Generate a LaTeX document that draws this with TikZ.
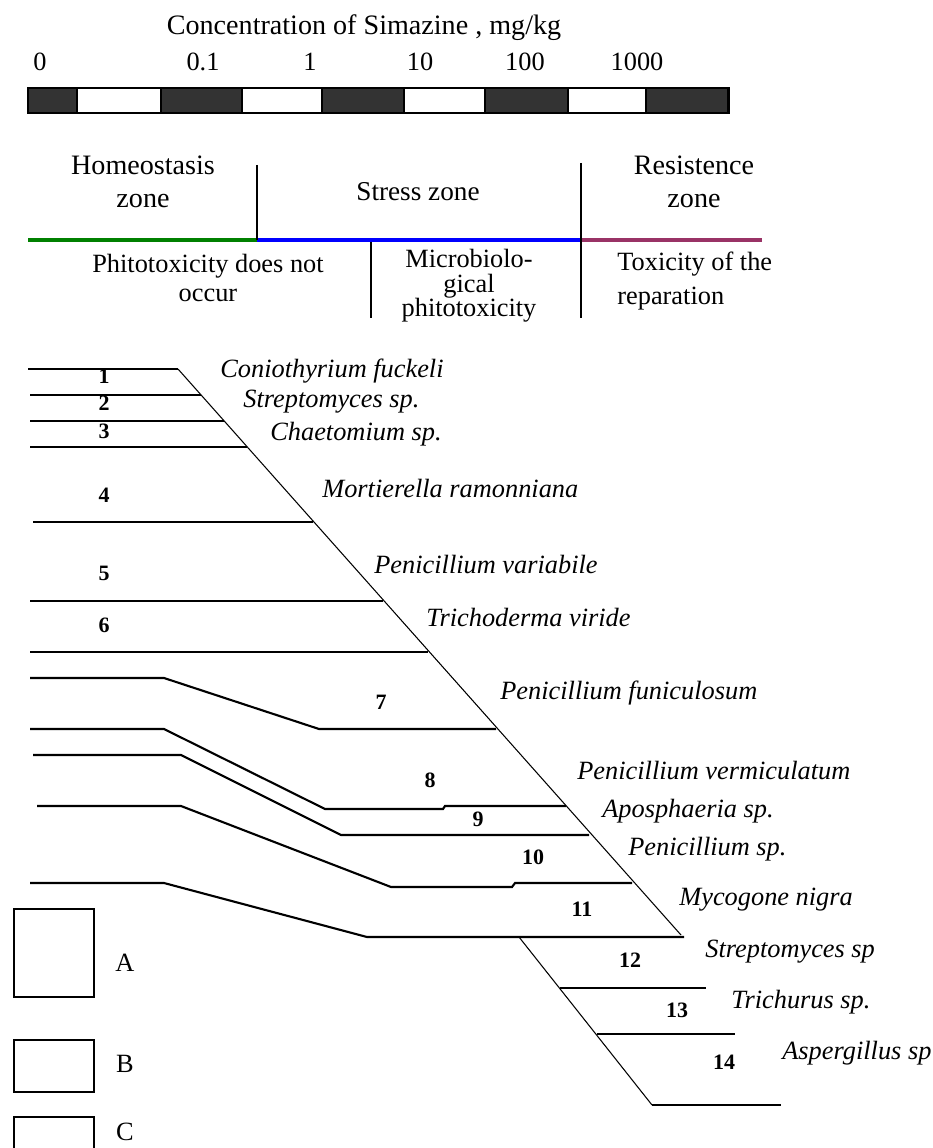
\documentclass[tikz,border=0pt]{standalone}
\usepackage{fontspec}
\setmainfont{Liberation Serif}
\definecolor{zonegreen}{RGB}{0,128,0}
\definecolor{zoneblue}{RGB}{0,0,255}
\definecolor{zonepurple}{RGB}{153,51,102}
\definecolor{bardark}{RGB}{51,51,51}

\begin{document}
\begin{tikzpicture}[x=0.02cm, y=-0.02cm,
		lbl/.style={inner sep=0pt, font=\fontsize{15}{19}\selectfont, align=center},
		taxon/.style={inner sep=0pt, anchor=west, font=\fontsize{15}{19}\selectfont\itshape},
		num/.style={inner sep=0pt, font=\fontsize{12.5}{14}\selectfont\bfseries},
		rule/.style={line width=1.2pt},
		slope/.style={line width=0.6pt}]
			%%%%% START %%%%%
			\useasboundingbox (0,0) rectangle (932,1148);
			
			% scale
			\node[lbl, font=\fontsize{16}{19}\selectfont] (title) at (364, 28) {Concentration of Simazine , mg/kg};
			\foreach \x/\v [count=\i] in {40/0, 203/0.1, 310/1, 420/10, 525/100, 637/1000}
				\node[lbl] (tick\i) at (\x, 62) {\v};
			\foreach \a/\b/\c in {28/77/bardark, 77/161/white, 161/242/bardark, 242/322/white, 322/404/bardark, 404/485/white, 485/568/bardark, 568/646/white, 646/728/bardark}
				\draw[line width=1.2pt, fill=\c] (\a, 88) rectangle (\b, 113);
			\draw[line width=1.7pt] (28, 88) rectangle (728, 113);
			
			% zones
			\draw[zonegreen, line width=2.8pt] (28, 240) -- (257, 240);
			\draw[zoneblue, line width=2.8pt] (257, 240) -- (581, 240);
			\draw[zonepurple, line width=2.8pt] (581, 240) -- (762, 240);
			\draw[line width=0.9pt] (257, 165) -- (257, 240);
			\draw[line width=0.9pt] (581, 163) -- (581, 318);
			\draw[line width=0.9pt] (371, 242) -- (371, 318);
			
			\node[lbl, font=\fontsize{16}{19}\selectfont] (homeo) at (143, 182) {Homeostasis\\zone};
			\node[lbl, font=\fontsize{15.5}{19}\selectfont] (stress) at (418, 192) {Stress zone};
			\node[lbl, font=\fontsize{16}{19}\selectfont] (resist) at (694, 182) {Resistence\\zone};
			\node[lbl, font=\fontsize{15}{17}\selectfont] (nophito) at (208, 278) {Phitotoxicity does not\\occur};
			\node[lbl, font=\fontsize{15}{14}\selectfont] (microb) at (469, 286) {Microbiolo-\\gical\\phitotoxicity};
			\node[lbl, align=left, anchor=west] (toxic) at (617, 281) {Toxicity of the\\reparation};
			
			% succession
			\draw[slope] (178, 369) -- (681, 935);
			\draw[rule] (28, 369) -- (178, 369);
			\draw[rule] (30, 395) -- (201, 395);
			\draw[rule] (30, 421) -- (224, 421);
			\draw[rule] (30, 447) -- (247, 447);
			\draw[rule] (33, 522) -- (313, 522);
			\draw[rule] (30, 601) -- (383, 601);
			\draw[rule] (30, 652) -- (428, 652);
			\draw[rule] (30, 678) -- (164, 678) -- (319, 729) -- (496, 729);
			\draw[rule] (30, 729) -- (164, 729) -- (325, 809) -- (443, 809) -- (445, 806) -- (566, 806);
			\draw[rule] (33, 755) -- (181, 755) -- (341, 835) -- (589, 835);
			\draw[rule] (37, 806) -- (181, 806) -- (391, 887) -- (512, 887) -- (515, 883) -- (632, 883);
			\draw[rule] (30, 883) -- (164, 883) -- (367, 937) -- (684, 937);
			
			\draw[slope] (519, 937) -- (652, 1105);
			\draw[rule] (560, 988) -- (706, 988);
			\draw[rule] (597, 1034) -- (735, 1034);
			\draw[rule] (652, 1105) -- (781, 1105);
			
			\foreach \x/\y [count=\i] in {104/376, 104/403, 104/431, 104/495, 104/573, 104/625, 381/702, 430/780, 478/819, 533/857, 582/909, 630/960, 677/1010, 724/1062}
				\node[num] (n\i) at (\x, \y) {\i};
			
			\node[taxon] (t1) at (220, 371) {Coniothyrium fuckeli};
			\node[taxon] (t2) at (243, 402) {Streptomyces sp.};
			\node[taxon] (t3) at (270, 434) {Chaetomium sp.};
			\node[taxon] (t4) at (322, 488) {Mortierella ramonniana};
			\node[taxon] (t5) at (374, 565) {Penicillium variabile};
			\node[taxon] (t6) at (426, 617) {Trichoderma viride};
			\node[taxon] (t7) at (500, 693) {Penicillium funiculosum};
			\node[taxon] (t8) at (577, 771) {Penicillium vermiculatum};
			\node[taxon] (t9) at (602, 811) {Aposphaeria sp.};
			\node[taxon] (t10) at (628, 849) {Penicillium sp.};
			\node[taxon] (t11) at (679, 900) {Mycogone nigra};
			\node[taxon] (t12) at (705, 952) {Streptomyces sp};
			\node[taxon] (t13) at (731, 1002) {Trichurus sp.};
			\node[taxon] (t14) at (782, 1053) {Aspergillus sp};
			
			% legend
			\draw[line width=1.5pt] (14, 909) rectangle (94, 997);
			\draw[line width=1.5pt] (14, 1040) rectangle (94, 1092);
			\draw[line width=1.5pt] (14, 1148) |- (94, 1117) -- (94, 1148);
			\node[lbl] (keyA) at (125, 963) {A};
			\node[lbl] (keyB) at (125, 1064) {B};
			\node[lbl] (keyC) at (125, 1132) {C};
			%%%%% END %%%%%
		\end{tikzpicture}
\end{document}
